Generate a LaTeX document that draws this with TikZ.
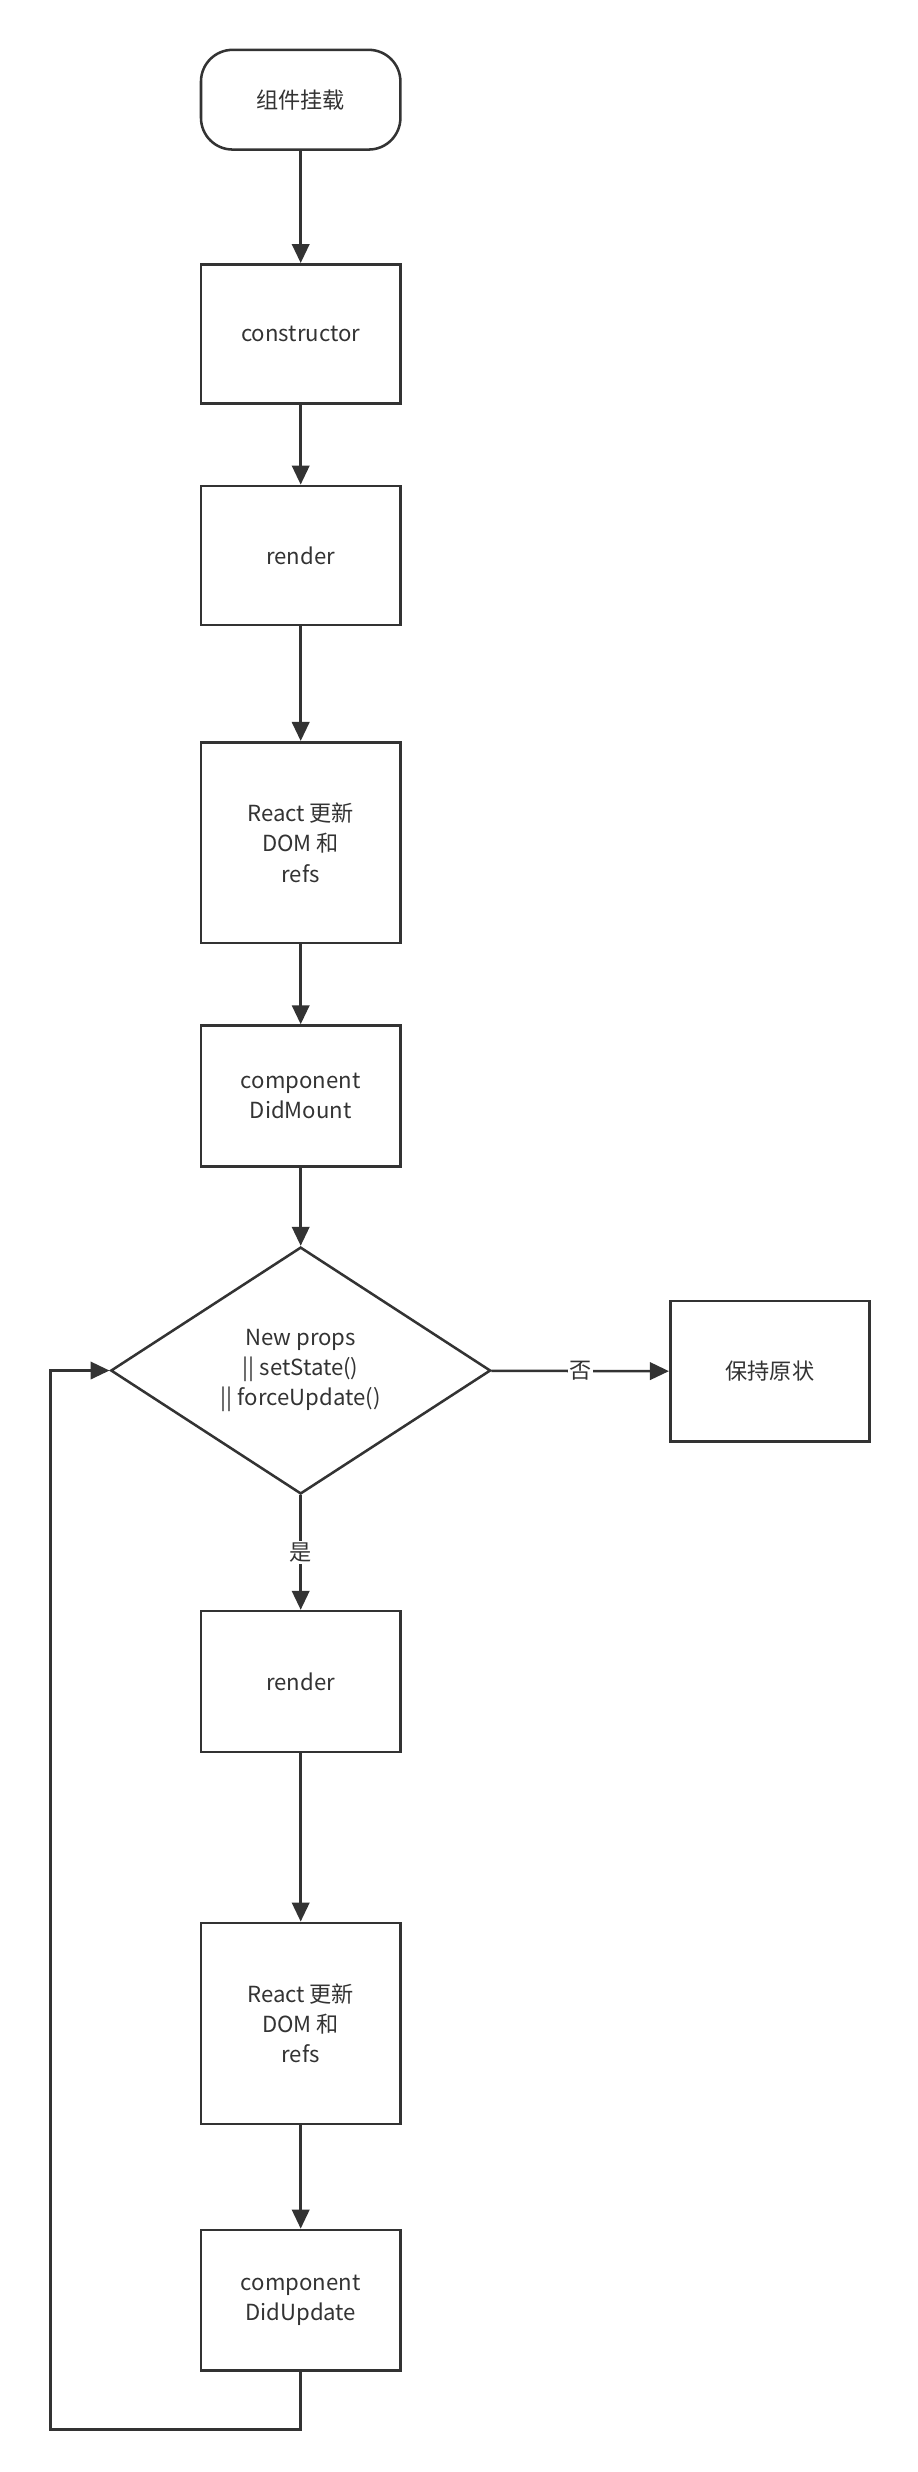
\documentclass[tikz,border=0pt]{standalone}
\usepackage{fontspec}
\setmainfont{Noto Sans CJK SC}
\usetikzlibrary{shapes.geometric,arrows.meta}
\definecolor{ink}{HTML}{333333}

\begin{document}
\begin{tikzpicture}[x=1pt,y=-1pt,line width=1.6pt,draw=ink,
    box/.style={draw=ink,rectangle,minimum width=126pt,minimum height=88pt,align=center,text=ink,font=\fontsize{14}{19}\selectfont},
    flow/.style={draw=ink,-{Triangle[length=12pt,width=11pt]}}]
    \useasboundingbox (0,0) rectangle (580,1562);

    % start
    \node[box,rounded corners=20pt,minimum height=63pt] (start) at (190,63) {组件挂载};

    % mounting
    \node[box] (ctor) at (190,211) {constructor};
    \node[box] (render) at (190,351) {render};
    \node[box,minimum height=127pt] (dom) at (190,532.5) {React 更新\\DOM 和\\refs};
    \node[box,minimum height=89pt] (mount) at (190,692.5) {component\\DidMount};

    % decision
    \node[draw=ink,diamond,aspect=1.54,minimum width=240pt,minimum height=156pt,inner sep=0pt,align=center,text=ink,font=\fontsize{14}{19}\selectfont] (check) at (190,866) {New props\\|| setState()\\|| forceUpdate()};
    \node[box,minimum height=89pt] (keep) at (486.5,866.5) {保持原状};

    % updating
    \node[box,minimum height=89pt] (render2) at (190,1062.5) {render};
    \node[box,minimum height=127pt] (dom2) at (190,1278.5) {React 更新\\DOM 和\\refs};
    \node[box,minimum height=89pt] (update) at (190,1453.5) {component\\DidUpdate};

    \coordinate (c1) at (190,1535);
    \coordinate (c2) at (32,1535);
    \coordinate (c3) at (32,866);

    % connectors
    \draw[flow] (start) -- (ctor);
    \draw[flow] (ctor) -- (render);
    \draw[flow] (render) -- (dom);
    \draw[flow] (dom) -- (mount);
    \draw[flow] (mount) -- (check);
    \draw[flow] (check) -- node[fill=white,text=ink,font=\fontsize{14}{19}\selectfont,inner sep=1pt,pos=0.5] {否} (keep);
    \draw[flow] (check) -- node[fill=white,text=ink,font=\fontsize{14}{19}\selectfont,inner sep=1pt,pos=0.5] {是} (render2);
    \draw[flow] (render2) -- (dom2);
    \draw[flow] (dom2) -- (update);
    \draw[flow] (update) -- (c1) -- (c2) -- (c3) -- (check.west);
\end{tikzpicture}
\end{document}
